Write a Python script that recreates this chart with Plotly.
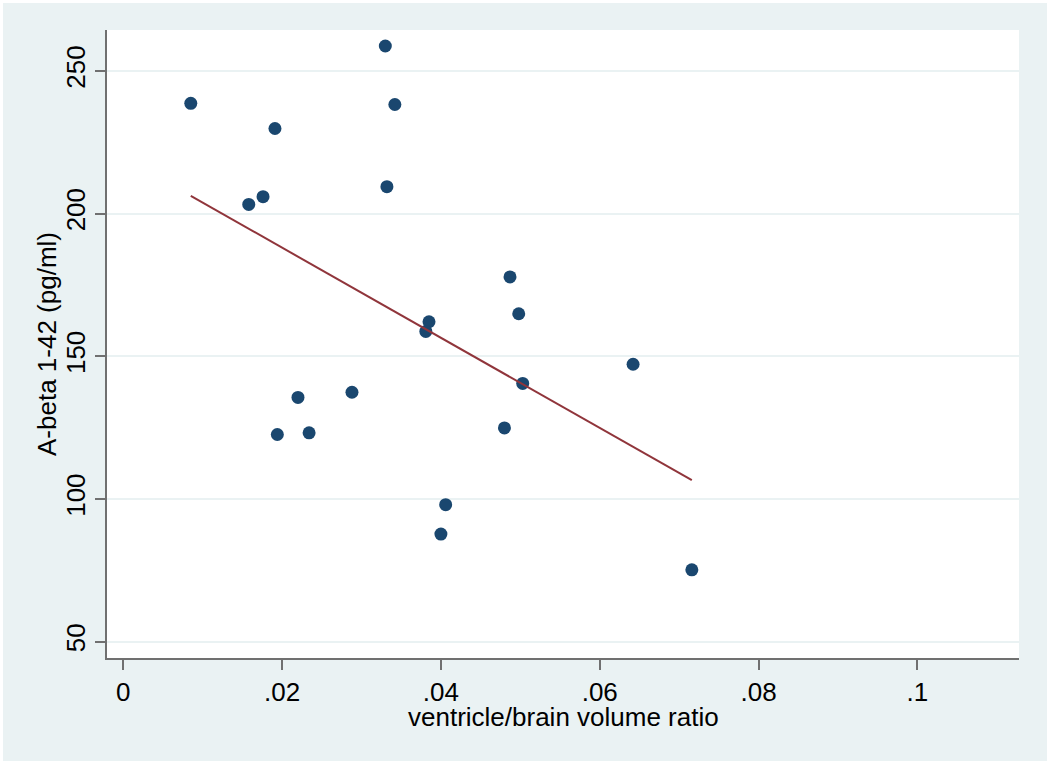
import plotly.graph_objects as go

# ventricle/brain volume ratio vs A-beta 1-42
ratio = [0.0085, 0.0191, 0.0158, 0.0176, 0.0342, 0.0332, 0.0330, 0.0487, 0.0498, 0.0385,
         0.0381, 0.0642, 0.0503, 0.0288, 0.0220, 0.0234, 0.0480, 0.0406, 0.0400, 0.0194,
         0.0716]
abeta = [238.6, 229.8, 203.2, 205.9, 238.2, 209.4, 258.7, 177.8, 164.9, 162.1,
         158.7, 147.2, 140.5, 137.4, 135.6, 123.2, 124.9, 98.0, 87.7, 122.6,
         75.2]

# linear fit (lfit) endpoints as drawn
fit_x = [0.0085, 0.0716]
fit_y = [206.2, 106.6]

x_tickvals = [0, 0.02, 0.04, 0.06, 0.08, 0.1]
x_ticktext = ["0", ".02", ".04", ".06", ".08", ".1"]
y_tickvals = [50, 100, 150, 200, 250]

bg = "#EAF2F3"
axcol = "#707070"
font = dict(family="Liberation Sans, Arial, sans-serif", size=26, color="black")

fig = go.Figure()
fig.add_trace(go.Scatter(x=ratio, y=abeta, mode="markers",
                         marker=dict(color="#1A476F", size=13, line_width=0),
                         showlegend=False))
fig.add_trace(go.Scatter(x=fit_x, y=fit_y, mode="lines",
                         line=dict(color="#90353B", width=2),
                         showlegend=False))

# plot area spans 107..1019 px wide, 30..658 px tall -> thin white frame round the page
W, H = 1050, 762
L, R, T, B = 107, 31, 30, 104
pw, ph = W - L - R, H - T - B
def px(v):
    return (v - L) / pw
def py(v):
    return (H - B - v) / ph
edges = [(0, 0, 3, H), (0, 0, W, 3), (W - 3, 0, W, H), (0, H - 1, W, H)]
shapes = [dict(type="rect", xref="paper", yref="paper",
               x0=px(a), x1=px(c), y0=py(d), y1=py(b),
               fillcolor="white", line_width=0, layer="above")
          for a, b, c, d in edges]

# axis titles as annotations so they sit as close to the ticks as in Stata
titles = [
    dict(text="ventricle/brain volume ratio", xref="paper", yref="paper",
         x=0.5, y=0, xanchor="center", yanchor="middle", yshift=-59,
         showarrow=False, font=font),
    dict(text="A-beta 1-42 (pg/ml)", xref="paper", yref="paper",
         x=0, y=0.5, xanchor="center", yanchor="middle", xshift=-60,
         textangle=-90, showarrow=False, font=font),
]

fig.update_layout(
    width=W, height=H,
    margin=dict(l=L, r=R, t=T, b=B),
    paper_bgcolor=bg, plot_bgcolor="white",
    font=font,
    shapes=shapes,
    annotations=titles,
    xaxis=dict(range=[-0.00205, 0.1128], tickvals=x_tickvals, ticktext=x_ticktext,
               showgrid=False, zeroline=False,
               showline=True, linecolor=axcol, linewidth=1.5,
               ticks="outside", ticklen=10, tickcolor=axcol, tickwidth=1.5),
    yaxis=dict(range=[44.3, 264.3], tickvals=y_tickvals, tickangle=-90,
               showgrid=True, gridcolor=bg, gridwidth=2, zeroline=False,
               showline=True, linecolor=axcol, linewidth=1.5,
               ticks="outside", ticklen=10, tickcolor=axcol, tickwidth=1.5),
)

fig.write_html("out.html", config={"displayModeBar": False},
               post_script="document.body.style.margin='0';")
